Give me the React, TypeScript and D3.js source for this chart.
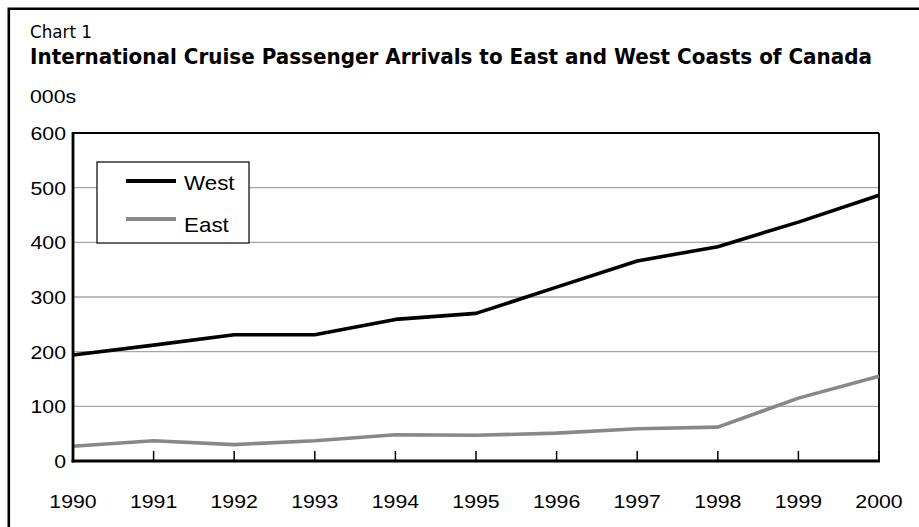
import React from "react";
import * as d3 from "d3";

// Annual international cruise passenger arrivals, in thousands
const years = [1990, 1991, 1992, 1993, 1994, 1995, 1996, 1997, 1998, 1999, 2000];
const westArrivals = [194, 212, 231, 231, 259, 270, 318, 366, 392, 437, 486];
const eastArrivals = [27, 37, 30, 37, 48, 47, 51, 59, 62, 115, 155];
const yTicks = [0, 100, 200, 300, 400, 500, 600];

const seriesList = [
  { name: "West", values: westArrivals, color: "#000000" },
  { name: "East", values: eastArrivals, color: "#888888" },
];

const W = 919;
const H = 527;
const plot = { left: 73, right: 879, top: 133, bottom: 461 };
const sans = "'Liberation Sans', Arial, Helvetica, sans-serif";
const narrow = "'DejaVu Sans Condensed', 'Liberation Sans Narrow', 'Arial Narrow', 'Liberation Sans', sans-serif";
const stretch = 1.12;

export default function App() {
  const x = d3.scaleLinear().domain([1990, 2000]).range([plot.left, plot.right]);
  const y = d3.scaleLinear().domain([0, 600]).range([plot.bottom, plot.top]);

  const line = d3
    .line<number>()
    .x((_, i) => x(years[i]))
    .y((v) => y(v));

  return (
    <svg
      width={W}
      height={H}
      style={{ position: "absolute", left: 0, top: 0, background: "#fff" }}
    >
      <rect x={0} y={0} width={W} height={H} fill="#fff" />
      {/* outer frame */}
      <path d={`M8.8,${H} V8.8 H${W}`} fill="none" stroke="#000" strokeWidth={2.6} />

      {/* headings */}
      <text x={30} y={37.5} fontFamily={narrow} fontSize={17} textLength={62} lengthAdjust="spacingAndGlyphs" fill="#000">
        Chart 1
      </text>
      <text x={30} y={64} fontFamily={narrow} fontWeight="bold" fontSize={20.5} textLength={842} lengthAdjust="spacingAndGlyphs" fill="#000">
        International Cruise Passenger Arrivals to East and West Coasts of Canada
      </text>
      <text transform={`translate(30,103) scale(${stretch},1)`} fontFamily={sans} fontSize={19} fill="#000">
        000s
      </text>

      {/* horizontal gridlines */}
      {yTicks
        .filter((t) => t > 0 && t < 600)
        .map((t) => (
          <line key={t} x1={plot.left} x2={plot.right} y1={y(t)} y2={y(t)} stroke="#a6a6a6" strokeWidth={1.4} />
        ))}

      {/* y tick labels */}
      {yTicks.map((t) => (
        <text
          key={t}
          transform={`translate(66,${y(t) + 7}) scale(${stretch},1)`}
          textAnchor="end"
          fontFamily={sans}
          fontSize={19}
          fill="#000"
        >
          {t}
        </text>
      ))}

      {/* plot frame */}
      <line x1={plot.left} x2={plot.right} y1={plot.top} y2={plot.top} stroke="#000" strokeWidth={2} />
      <line x1={plot.right} x2={plot.right} y1={plot.top} y2={plot.bottom} stroke="#000" strokeWidth={1.8} />

      {/* x ticks and labels */}
      {years.map((yr) => (
        <g key={yr}>
          <line x1={x(yr)} x2={x(yr)} y1={plot.bottom - 10} y2={plot.bottom} stroke="#000" strokeWidth={1.5} />
          <text
            transform={`translate(${x(yr)},508) scale(${stretch},1)`}
            textAnchor="middle"
            fontFamily={sans}
            fontSize={19}
            fill="#000"
          >
            {yr}
          </text>
        </g>
      ))}

      {/* data lines */}
      {seriesList.map((s) => (
        <path
          key={s.name}
          d={line(s.values) || ""}
          fill="none"
          stroke={s.color}
          strokeWidth={3.6}
          strokeLinejoin="round"
        />
      ))}

      {/* axes */}
      <line x1={plot.left} x2={plot.left} y1={plot.top - 1} y2={plot.bottom + 1.5} stroke="#000" strokeWidth={2.8} />
      <line x1={plot.left - 1.4} x2={plot.right + 0.9} y1={plot.bottom} y2={plot.bottom} stroke="#000" strokeWidth={3} />

      {/* legend */}
      <g>
        <rect x={97} y={162} width={152} height={81} fill="#fff" stroke="#000" strokeWidth={1.2} />
        {seriesList.map((s, i) => (
          <g key={s.name}>
            <line x1={126} x2={176} y1={181 + i * 38} y2={181 + i * 38} stroke={s.color} strokeWidth={4} />
            <text
              transform={`translate(184,${189.5 + i * 42.5}) scale(${stretch},1)`}
              fontFamily={sans}
              fontSize={20}
              fill="#000"
            >
              {s.name}
            </text>
          </g>
        ))}
      </g>
    </svg>
  );
}
